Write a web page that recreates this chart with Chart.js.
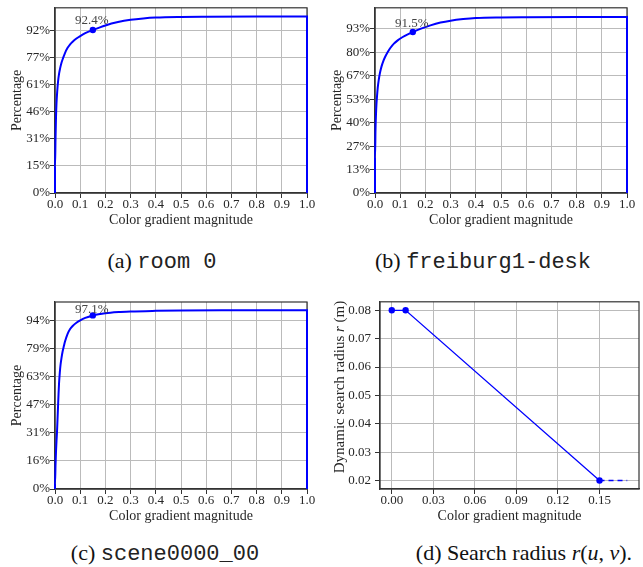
<!DOCTYPE html>
<html>
<head>
<meta charset="utf-8">
<script src="https://cdn.jsdelivr.net/npm/chart.js@4.4.1/dist/chart.umd.min.js"></script>
<style>
  html, body { margin: 0; padding: 0; background: #fff; }
  #page { position: relative; width: 643px; height: 567px; overflow: hidden; background: #fff; }
  canvas { position: absolute; }
  .cap { position: absolute; height: 24px; line-height: 24px; text-align: center; white-space: nowrap;
         font-family: "Liberation Serif", "Times New Roman", serif; font-size: 22px; color: #111; }
  .cap .tt { font-family: "Liberation Mono", "DejaVu Sans Mono", monospace; font-size: 22px; color: #222; }
</style>
</head>
<body>
<div id="page">
  <canvas id="chartA" width="320" height="240" style="left:0px;top:0px"></canvas>
  <canvas id="chartB" width="323" height="240" style="left:320px;top:0px"></canvas>
  <canvas id="chartC" width="320" height="246" style="left:0px;top:290px"></canvas>
  <canvas id="chartD" width="323" height="246" style="left:320px;top:290px"></canvas>

  <div class="cap" style="left:62px;top:249px;width:200px">(a) <span class="tt">room 0</span></div>
  <div class="cap" style="left:363px;top:249px;width:240px">(b) <span class="tt">freiburg1-desk</span></div>
  <div class="cap" style="left:65px;top:541px;width:200px">(c) <span class="tt">scene0000_00</span></div>
  <div class="cap" style="left:404px;top:541px;width:240px">(d) Search radius <i>r</i>(<i>u</i>, <i>v</i>).</div>
</div>

<script>
// cumulative share of pixels vs colour gradient magnitude
const roomX = [0, 0, 0.002, 0.004, 0.006, 0.009, 0.012, 0.016, 0.02, 0.026, 0.032, 0.04, 0.05, 0.06, 0.07, 0.085, 0.1, 0.12, 0.15, 0.2, 0.25, 0.3, 0.35, 0.4, 0.5, 0.6, 0.8, 1.0, 1.0];
const roomY = [0, 15, 30, 43, 51, 58, 63, 67.5, 70.5, 74, 76.5, 79.5, 82.3, 84.3, 85.8, 87.6, 89.0, 90.6, 92.4, 95.0, 96.9, 98.2, 99.0, 99.5, 99.85, 99.95, 100, 100, 0];

const deskX = [0, 0, 0.002, 0.004, 0.006, 0.008, 0.011, 0.015, 0.02, 0.026, 0.033, 0.04, 0.05, 0.06, 0.075, 0.09, 0.11, 0.13, 0.15, 0.18, 0.22, 0.26, 0.3, 0.35, 0.4, 0.5, 0.6, 0.8, 1.0, 1.0];
const deskY = [0, 20, 36, 45, 51, 55, 60, 64.5, 68.5, 72, 75, 77.3, 80, 82.3, 84.9, 86.8, 88.7, 90.2, 91.5, 93.3, 95.3, 96.9, 98.0, 98.9, 99.5, 99.85, 99.95, 100, 100, 0];

const sceneX = [0, 0, 0.002, 0.004, 0.006, 0.008, 0.01, 0.012, 0.014, 0.016, 0.019, 0.022, 0.026, 0.03, 0.035, 0.04, 0.05, 0.06, 0.07, 0.085, 0.1, 0.12, 0.15, 0.18, 0.22, 0.26, 0.3, 0.4, 0.5, 0.7, 1.0, 1.0];
const sceneY = [0, 3, 13, 21, 27, 32, 39, 46, 53, 59, 65, 69.5, 73.5, 76.8, 79.8, 82.6, 86.8, 89.5, 91.2, 93, 94.3, 95.7, 97.1, 97.9, 98.6, 99, 99.3, 99.65, 99.85, 99.95, 100, 0];

// highlighted threshold point on each curve
const markX = 0.15;
const roomMark = 92.4, deskMark = 91.5, sceneMark = 97.1;

// tick values
const xTicksCdf = [0, 0.1, 0.2, 0.3, 0.4, 0.5, 0.6, 0.7, 0.8, 0.9, 1.0];
const yTicksRoom = [0, 15.35, 30.7, 46.05, 61.4, 76.75, 92.1];
const yTicksDesk = [0, 13.33, 26.67, 40, 53.33, 66.67, 80, 93.33];
const yTicksScene = [0, 15.72, 31.44, 47.16, 62.88, 78.6, 94.32];

// search radius r vs gradient magnitude
const radiusX = [0, 0.01, 0.15];
const radiusY = [0.08, 0.08, 0.02];
const tailX = [0.15, 0.17];
const tailY = [0.02, 0.02];
const xTicksRadius = [0, 0.03, 0.06, 0.09, 0.12, 0.15];
const yTicksRadius = [0.02, 0.03, 0.04, 0.05, 0.06, 0.07, 0.08];

const BLUE = '#0000ff';
const INK = '#262626';
const SERIF = "'Liberation Serif', 'Times New Roman', serif";

const pts = (xs, ys) => xs.map((x, i) => ({ x, y: ys[i] }));

// frame on all four sides, the value label over the marker, and a y title with italic r
const framePlugin = {
  id: 'frame',
  beforeDatasetsDraw(chart) {
    const { ctx, chartArea: a } = chart;
    ctx.save();
    ctx.strokeStyle = '#333';
    ctx.lineWidth = 1.2;
    ctx.strokeRect(a.left, a.top, a.right - a.left, a.bottom - a.top);
    ctx.restore();
  },
  afterDatasetsDraw(chart, args, opts) {
    const { ctx, scales } = chart;
    if (opts.label) {
      const px = scales.x.getPixelForValue(opts.x);
      const py = scales.y.getPixelForValue(opts.y);
      ctx.save();
      ctx.font = "13px " + SERIF;
      ctx.fillStyle = '#444';
      ctx.textAlign = 'center';
      ctx.textBaseline = 'alphabetic';
      ctx.fillText(opts.label, px - 1, py - opts.gap);
      ctx.restore();
    }
    if (opts.yTitle) {
      const parts = opts.yTitle;
      ctx.save();
      ctx.fillStyle = INK;
      ctx.textBaseline = 'middle';
      ctx.textAlign = 'left';
      const fontOf = p => (p.italic ? 'italic ' : '') + '15px ' + SERIF;
      let total = 0;
      parts.forEach(p => { ctx.font = fontOf(p); total += ctx.measureText(p.text).width; });
      ctx.translate(opts.titleX, opts.titleY);
      ctx.rotate(-Math.PI / 2);
      let cx = -total / 2;
      parts.forEach(p => { ctx.font = fontOf(p); ctx.fillText(p.text, cx, 0); cx += ctx.measureText(p.text).width; });
      ctx.restore();
    }
  }
};

function axisBase(ticks, fmt, size) {
  return {
    type: 'linear',
    afterBuildTicks: s => { s.ticks = ticks.map(v => ({ value: v })); },
    afterFit: s => { if (s.isHorizontal()) s.height = size; else s.width = size; },
    grid: { color: '#bbbbbb', lineWidth: 1, tickLength: 5, tickColor: '#333' },
    border: { color: '#333', width: 1.2 },
    ticks: { color: INK, font: { family: SERIF, size: 13 }, padding: 0, autoSkip: false, maxRotation: 0, callback: fmt }
  };
}

function cdfChart(id, xs, ys, mark, yTicks, yMax, pad, gap) {
  const x = axisBase(xTicksCdf, v => v.toFixed(1), 47);
  x.min = 0; x.max = 1;
  x.ticks.padding = -1;
  x.title = { display: true, text: 'Color gradient magnitude', color: INK,
              font: { family: SERIF, size: 14 }, padding: { top: 0, bottom: 11.6 } };
  const y = axisBase(yTicks, v => Math.round(v) + '%', 55);
  y.min = 0; y.max = yMax;
  y.title = { display: true, text: 'Percentage', color: INK,
              font: { family: SERIF, size: 14 }, padding: { top: 8.6, bottom: 0 } };

  return new Chart(document.getElementById(id), {
    type: 'line',
    data: {
      datasets: [
        { data: pts(xs, ys), borderColor: BLUE, borderWidth: 2, pointRadius: 0,
          cubicInterpolationMode: 'monotone', clip: 4 },
        { data: [{ x: markX, y: mark }], borderColor: BLUE, backgroundColor: BLUE,
          pointRadius: 3.2, pointBorderWidth: 0, showLine: false }
      ]
    },
    options: {
      responsive: false,
      animation: false,
      devicePixelRatio: 1,
      layout: { padding: pad },
      scales: { x, y },
      plugins: {
        legend: { display: false },
        tooltip: { enabled: false },
        frame: { label: mark.toFixed(1) + '%', x: markX, y: mark, gap }
      }
    },
    plugins: [framePlugin]
  });
}

cdfChart('chartA', roomX, roomY, roomMark, yTicksRoom, 105.0, { left: 0, top: 6, right: 13, bottom: 0 }, 6);
cdfChart('chartB', deskX, deskY, deskMark, yTicksDesk, 105.3, { left: 0, top: 6, right: 16, bottom: 0 }, 5);
cdfChart('chartC', sceneX, sceneY, sceneMark, yTicksScene, 104.6, { left: 0, top: 12, right: 13, bottom: 0 }, 2);

// (d) dynamic search radius
const dx = axisBase(xTicksRadius, v => v.toFixed(2), 47);
dx.min = -0.0085; dx.max = 0.1785;
dx.ticks.padding = -1;
dx.title = { display: true, text: 'Color gradient magnitude', color: INK,
             font: { family: SERIF, size: 14 }, padding: { top: 0, bottom: 11.6 } };
const dy = axisBase(yTicksRadius, v => v.toFixed(2), 60);
dy.min = 0.017; dy.max = 0.083;
dy.ticks.padding = 4;

new Chart(document.getElementById('chartD'), {
  type: 'line',
  data: {
    datasets: [
      { data: pts(radiusX, radiusY), borderColor: BLUE, backgroundColor: BLUE, borderWidth: 1.3,
        pointRadius: 3.2, pointBorderWidth: 0, tension: 0 },
      { data: pts(tailX, tailY), borderColor: BLUE, borderWidth: 1.5, borderDash: [5, 4],
        pointRadius: 0, tension: 0 }
    ]
  },
  options: {
    responsive: false,
    animation: false,
    devicePixelRatio: 1,
    layout: { padding: { left: 0, top: 6, right: 4, bottom: 0 } },
    scales: { x: dx, y: dy },
    plugins: {
      legend: { display: false },
      tooltip: { enabled: false },
      frame: {
        titleX: 20, titleY: 97,
        yTitle: [{ text: 'Dynamic search radius ' }, { text: 'r', italic: true }, { text: ' (m)' }]
      }
    }
  },
  plugins: [framePlugin]
});
</script>
</body>
</html>
